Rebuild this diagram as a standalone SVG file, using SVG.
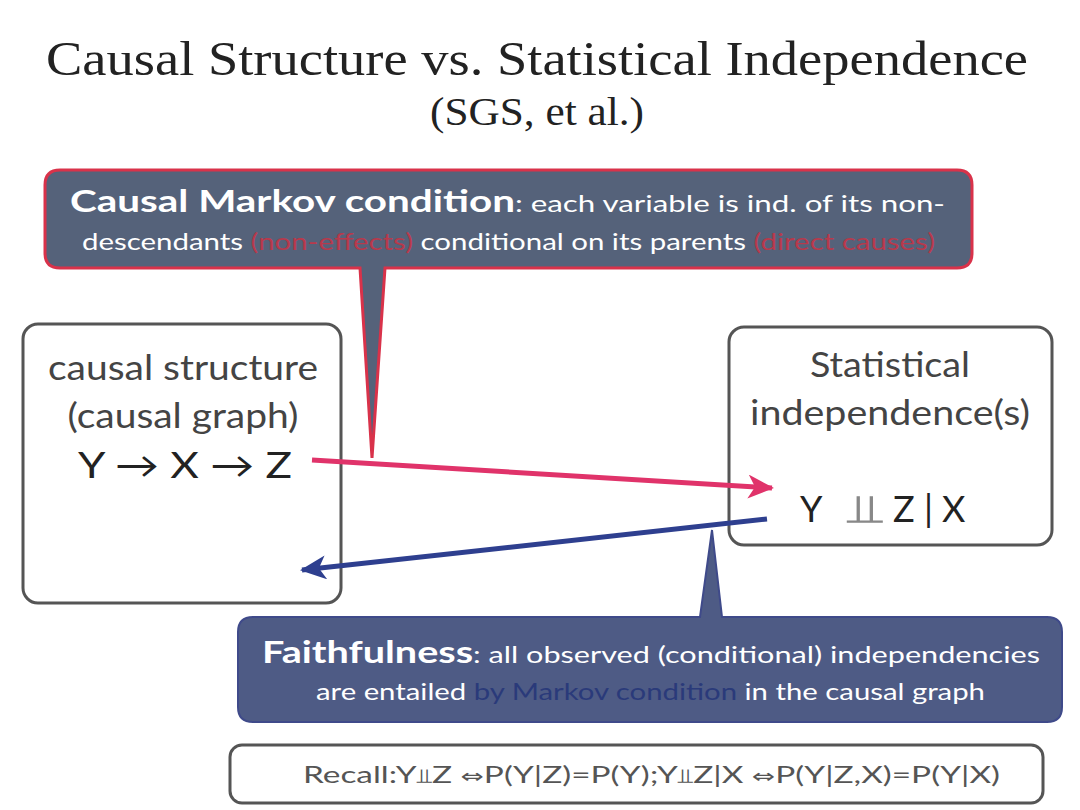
<svg xmlns="http://www.w3.org/2000/svg" width="1080" height="810" viewBox="0 0 1080 810">
<style>
.title{font-family:"Liberation Serif",serif;fill:#222;text-anchor:middle}
.g{font-family:Lato,"Open Sans",sans-serif}
.box{fill:#fff;stroke:#555;stroke-width:3}
.lbl{fill:#444;font-size:34px;text-anchor:middle}
.sym{font-family:"DejaVu Sans",sans-serif}
</style>
<defs>
<marker id="ahP" markerWidth="26" markerHeight="24" refX="24" refY="12" orient="auto" markerUnits="userSpaceOnUse" viewBox="0 0 26 24">
<path d="M0,0 L26,12 L0,24 L7,12 Z" fill="#e0336a"/>
</marker>
<marker id="ahB" markerWidth="26" markerHeight="24" refX="24" refY="12" orient="auto" markerUnits="userSpaceOnUse" viewBox="0 0 26 24">
<path d="M0,0 L26,12 L0,24 L7,12 Z" fill="#2e3f8f"/>
</marker>
</defs>
<rect width="1080" height="810" fill="#fff"/>
<g id="title">
<text class="title" x="537" y="75" font-size="48" textLength="982" lengthAdjust="spacingAndGlyphs">Causal Structure vs. Statistical Independence</text>
<text class="title" x="537" y="125" font-size="40" textLength="214" lengthAdjust="spacingAndGlyphs">(SGS, et al.)</text>
</g>
<g id="causal-structure">
<rect class="box" x="23" y="324" width="318" height="279" rx="15"/>
<text class="g lbl" x="183" y="380" textLength="270" lengthAdjust="spacingAndGlyphs">causal structure</text>
<text class="g lbl" x="183" y="428" textLength="231" lengthAdjust="spacingAndGlyphs">(causal graph)</text>
<text class="g" x="185" y="478" font-size="36" fill="#222" text-anchor="middle" textLength="214" lengthAdjust="spacingAndGlyphs">Y → X → Z</text>
</g>
<g id="statistical-independence">
<rect class="box" x="729" y="327" width="323" height="218" rx="15"/>
<text class="g lbl" x="890" y="377" textLength="160" lengthAdjust="spacingAndGlyphs">Statistical</text>
<text class="g lbl" x="890" y="425" textLength="280" lengthAdjust="spacingAndGlyphs">independence(s)</text>
<text class="g" x="800" y="522" font-size="36" fill="#222">Y</text>
<text class="sym" x="846" y="522" font-size="40" fill="#888" textLength="36" lengthAdjust="spacingAndGlyphs">⫫</text>
<text class="g" x="893" y="522" font-size="36" fill="#222">Z | X</text>
</g>
<g id="connectors">
<line x1="312" y1="460" x2="772" y2="488" stroke="#e0336a" stroke-width="5" marker-end="url(#ahP)"/>
<line x1="767" y1="519" x2="302" y2="570" stroke="#2e3f8f" stroke-width="5" marker-end="url(#ahB)"/>
</g>
<g id="markov-callout">
<path d="M60,170 H957 Q972,170 972,185 V253 Q972,268 957,268 H385 L372,458 L360,268 H60 Q45,268 45,253 V185 Q45,170 60,170 Z" fill="#55627a" stroke="#d9324a" stroke-width="3"/>
<text class="g" x="70" y="212" font-size="24" fill="#fff" textLength="875" lengthAdjust="spacingAndGlyphs"><tspan font-weight="bold" font-size="31">Causal Markov condition</tspan>: each variable is ind. of its non-</text>
<text class="g" x="82" y="250" font-size="24" fill="#fff" textLength="853" lengthAdjust="spacingAndGlyphs">descendants <tspan fill="#b8394c">(non-effects)</tspan> conditional on its parents <tspan fill="#b8394c">(direct causes)</tspan></text>
</g>
<g id="faithfulness-callout">
<path d="M253,617 H700 L712,530 L722,617 H1047 Q1062,617 1062,632 V707 Q1062,722 1047,722 H253 Q238,722 238,707 V632 Q238,617 253,617 Z" fill="#4e5b85" stroke="#3f4a8a" stroke-width="2"/>
<text class="g" x="262" y="663" font-size="24" fill="#fff" textLength="778" lengthAdjust="spacingAndGlyphs"><tspan font-weight="bold" font-size="31">Faithfulness</tspan>: all observed (conditional) independencies</text>
<text class="g" x="316" y="700" font-size="24" fill="#fff" textLength="669" lengthAdjust="spacingAndGlyphs">are entailed <tspan fill="#2a3a7a">by Markov condition</tspan> in the causal graph</text>
</g>
<g id="recall">
<rect class="box" x="230" y="745" width="813" height="58" rx="12"/>
<text class="g" x="303" y="783" font-size="24" fill="#555" textLength="697" lengthAdjust="spacingAndGlyphs">Recall:Y<tspan class="sym" font-size="20">⫫</tspan>Z <tspan class="sym" font-size="20">⇔</tspan>P(Y|Z)=P(Y);Y<tspan class="sym" font-size="20">⫫</tspan>Z|X <tspan class="sym" font-size="20">⇔</tspan>P(Y|Z,X)=P(Y|X)</text>
</g>
</svg>
